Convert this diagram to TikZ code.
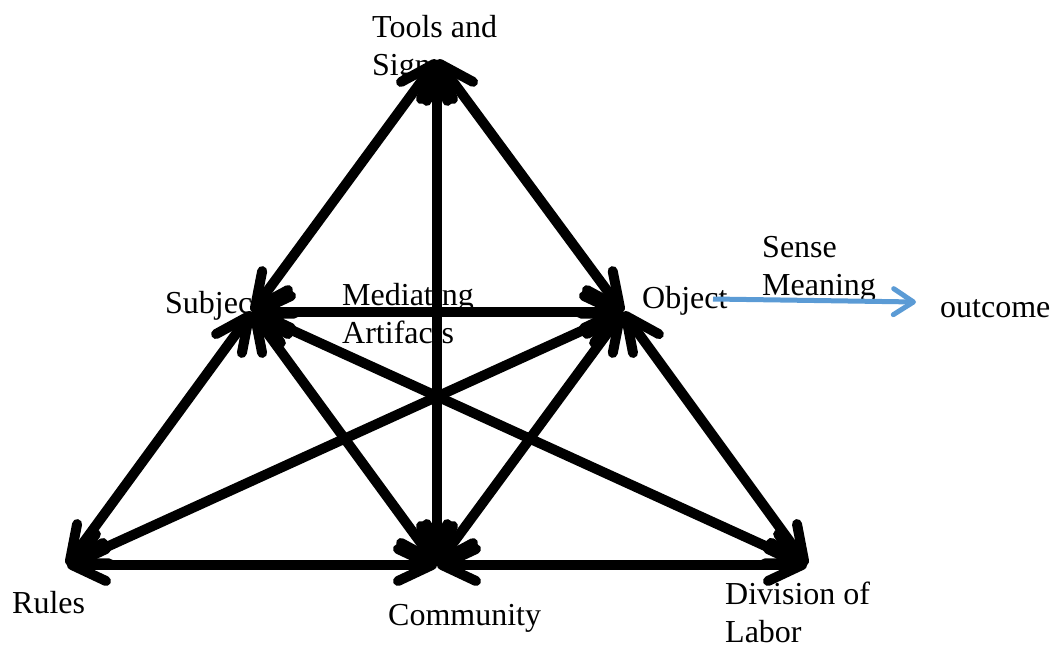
\documentclass[tikz,border=0pt]{standalone}
\usepackage{fontspec}
\setmainfont{Liberation Serif}
\usetikzlibrary{arrows.meta}
\definecolor{outblue}{RGB}{91,155,213}

\begin{document}
\begin{tikzpicture}[
          vx/.style={coordinate},
          lb/.style={anchor=base west, align=left, inner sep=0pt,
                     font=\fontsize{32}{38}\selectfont},
          ed/.style={line width=10pt, black, line cap=round,
                     {Straight Barb[length=34pt, width=32pt, round]}-{Straight Barb[length=34pt, width=32pt, round]}},
          bl/.style={line width=5pt, outblue,
                     -{Straight Barb[length=20pt, width=26pt, round]}},
          x=1pt,
          y=-1pt,
        ]
      \useasboundingbox (0,0) rectangle (1063,651);
      \node[vx] (tools) at (437, 60) {};
      \node[vx] (subj) at (252, 312) {};
      \node[vx] (obj) at (623, 312) {};
      \node[vx] (rules) at (67, 565) {};
      \node[vx] (comm) at (437, 565) {};
      \node[vx] (div) at (807, 565) {};
      \node[lb] (ltools) at (372, 75) {Tools and\\Signs};
      \node[lb] (lsubj) at (165, 313) {Subject};
      \node[lb] (lmed) at (342, 343) {Mediating\\Artifacts};
      \node[lb] (lobj) at (642, 308) {Object};
      \node[lb] (lsense) at (762, 295) {Sense\\Meaning};
      \node[lb] (lout) at (940, 317) {outcome};
      \node[lb] (lrules) at (12, 613) {Rules};
      \node[lb] (lcomm) at (388, 625) {Community};
      \node[lb] (ldiv) at (725, 642) {Division of\\Labor};
      \coordinate (bstart) at (713, 299);
      \coordinate (bend) at (916, 302);
      \draw[ed] (tools) -- (subj);
      \draw[ed] (tools) -- (obj);
      \draw[ed] (tools) -- (comm);
      \draw[ed] (subj) -- (obj);
      \draw[ed] (subj) -- (rules);
      \draw[ed] (subj) -- (comm);
      \draw[ed] (subj) -- (div);
      \draw[ed] (obj) -- (rules);
      \draw[ed] (obj) -- (comm);
      \draw[ed] (obj) -- (div);
      \draw[ed] (rules) -- (comm);
      \draw[ed] (comm) -- (div);
      \draw[bl] (bstart) -- (bend);
    \end{tikzpicture}
\end{document}
